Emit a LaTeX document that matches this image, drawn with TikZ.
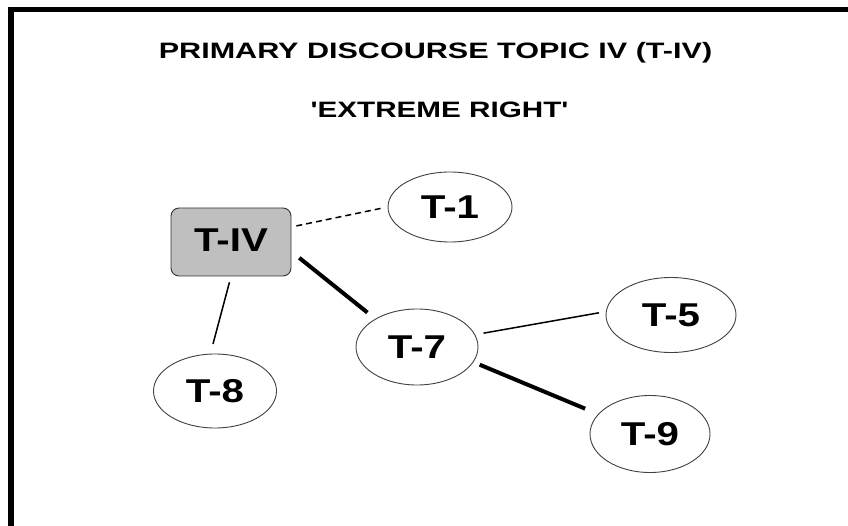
\documentclass[tikz,border=0pt]{standalone}
\usepackage{fontspec}
\newfontfamily\arialbf{Liberation Sans}
\usetikzlibrary{shapes.geometric}
\begin{document}
\begin{tikzpicture}[x=1pt,y=-1pt,
  topic/.style={ellipse, draw=black!75, line width=0.9pt, fill=white, inner sep=0pt,
    font=\arialbf\fontsize{33}{36}\selectfont\bfseries},
  hub/.style={rectangle, rounded corners=8pt, draw=black!80, line width=0.9pt, fill=black!25,
    minimum width=120pt, minimum height=68pt, inner sep=0pt,
    font=\arialbf\fontsize{33}{36}\selectfont\bfseries},
  titletext/.style={anchor=base, inner sep=0pt, font=\arialbf\fontsize{22.3}{26}\selectfont\bfseries},
  weaklink/.style={line width=1.5pt},
  stronglink/.style={line width=4pt},
  dashlink/.style={line width=1.5pt, dash pattern=on 6pt off 4pt},
  frameline/.style={line width=5.5pt, line join=miter}
]
\useasboundingbox (0,0) rectangle (848,526);
\draw[frameline] (11,530) -- (11,9.5) -- (852,9.5);

\node[titletext] (title1) at (435.5,59) {\scalebox{1.37}[1]{PRIMARY DISCOURSE TOPIC IV (T-IV)}};
\node[titletext] (title2) at (439.5,118) {\scalebox{1.33}[1]{'EXTREME RIGHT'}};

\node[hub] (tiv) at (231,242) {\raisebox{3pt}{\scalebox{1.22}[1]{T-IV}}};
\node[topic, minimum width=124pt, minimum height=70pt] (t1) at (450,207) {\scalebox{1.22}[1]{T-1}};
\node[topic, minimum width=122pt, minimum height=76pt] (t7) at (417,347) {\scalebox{1.22}[1]{T-7}};
\node[topic, minimum width=123pt, minimum height=74pt] (t8) at (215,391) {\scalebox{1.22}[1]{T-8}};
\node[topic, minimum width=130pt, minimum height=75pt] (t5) at (671,315) {\scalebox{1.22}[1]{T-5}};
\node[topic, minimum width=120pt, minimum height=77pt] (t9) at (650,434) {\scalebox{1.22}[1]{T-9}};

\draw[dashlink, shorten <=5pt, shorten >=7pt] (tiv.14) -- (t1.180);
\draw[stronglink, shorten <=10pt, shorten >=10pt] (tiv.-9) -- (t7.146);
\draw[weaklink, shorten <=6pt, shorten >=10pt] (tiv.south) -- (t8.97);
\draw[weaklink, shorten <=8.5pt, shorten >=7pt] (t7.12) -- (t5.177);
\draw[stronglink, shorten <=6.7pt, shorten >=14pt] (t7.-15) -- (t9.159);
\end{tikzpicture}
\end{document}
